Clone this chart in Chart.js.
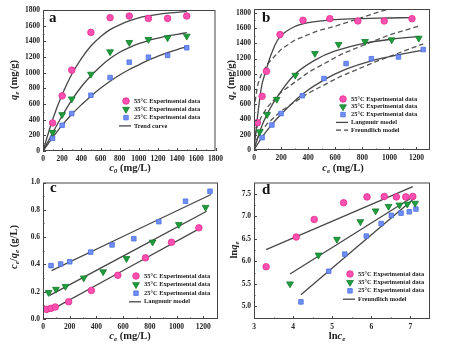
<!DOCTYPE html>
<html>
<head>
<meta charset="utf-8">
<script src="https://cdn.jsdelivr.net/npm/chart.js@4.4.0/dist/chart.umd.min.js"></script>
<style>
  body { margin: 0; background: #fff; }
  #wrap { position: relative; width: 454px; height: 351px; }
  canvas { position: absolute; }
</style>
</head>
<body>
<div id="wrap">
  <canvas id="chartA" width="227" height="175" style="left:0;top:0"></canvas>
  <canvas id="chartB" width="227" height="175" style="left:227px;top:0"></canvas>
  <canvas id="chartC" width="227" height="175" style="left:0;top:175px"></canvas>
  <canvas id="chartD" width="227" height="175" style="left:227px;top:175px"></canvas>
</div>
<script>
// ---- data ----
// initial concentration c0 (mg/L) and adsorbed amount qe (mg/g)
const C0 = [100, 200, 300, 500, 700, 900, 1100, 1300, 1500];
const QE_55 = [358, 704, 1032, 1514, 1702, 1723, 1693, 1693, 1723];
const QE_35 = [239, 465, 665, 981, 1267, 1386, 1424, 1446, 1467];
const QE_25 = [162, 328, 478, 712, 938, 1134, 1198, 1220, 1318];

// trend curves (panel a)
const TREND_X = [0, 100, 200, 300, 400, 500, 600, 700, 800, 900, 1000, 1100, 1200, 1300, 1400, 1500];
const TREND_55 = [0, 400, 720, 980, 1180, 1340, 1460, 1550, 1610, 1660, 1700, 1725, 1745, 1760, 1770, 1780];
const TREND_35 = [0, 230, 450, 650, 820, 960, 1080, 1180, 1260, 1320, 1370, 1410, 1440, 1470, 1490, 1510];
const TREND_25 = [0, 170, 330, 470, 590, 700, 800, 890, 970, 1040, 1100, 1160, 1210, 1255, 1295, 1330];

// equilibrium concentration ce (mg/L)
const CE_55 = [25, 60, 92, 192, 362, 560, 767, 962, 1167];
const CE_35 = [42, 97, 168, 305, 450, 625, 820, 1017, 1217];
const CE_25 = [60, 132, 200, 357, 517, 680, 867, 1067, 1250];

// Langmuir curves (panel b)
const LANG_55_X = [0, 20, 40, 60, 90, 130, 190, 290, 400, 600, 800, 1000, 1160];
const LANG_55_Y = [0, 340, 640, 870, 1050, 1270, 1480, 1610, 1670, 1710, 1725, 1732, 1738];
const LANG_35_X = [0, 50, 100, 165, 300, 450, 600, 815, 1000, 1220];
const LANG_35_Y = [0, 280, 480, 680, 990, 1180, 1300, 1400, 1450, 1490];
const LANG_25_X = [0, 60, 130, 200, 357, 517, 680, 867, 1067, 1250];
const LANG_25_Y = [0, 170, 330, 470, 730, 920, 1060, 1170, 1250, 1310];

// Freundlich curves (panel b)
const FREU_55_X = [1, 5, 25, 50, 100, 200, 300, 465, 600, 800, 940, 1000];
const FREU_55_Y = [424, 600, 840, 975, 1130, 1320, 1440, 1560, 1625, 1740, 1822, 1850];
const FREU_35_X = [1, 5, 25, 50, 100, 200, 400, 640, 800, 1000, 1220];
const FREU_35_Y = [80, 160, 315, 420, 566, 757, 1018, 1252, 1370, 1510, 1628];
const FREU_25_X = [1, 10, 50, 100, 200, 400, 640, 900, 1250];
const FREU_25_Y = [30, 99, 240, 350, 511, 745, 966, 1160, 1393];

// ce/qe (g/L) (panel c)
const CQ_55 = [0.071, 0.078, 0.088, 0.126, 0.209, 0.32, 0.448, 0.562, 0.668];
const CQ_35 = [0.194, 0.218, 0.239, 0.301, 0.346, 0.443, 0.564, 0.692, 0.818];
const CQ_25 = [0.391, 0.403, 0.419, 0.49, 0.543, 0.588, 0.713, 0.863, 0.936];
const LIN_55_X = [25, 1175], LIN_55_Y = [0.047, 0.664];
const LIN_35_X = [50, 1225], LIN_35_Y = [0.173, 0.789];
const LIN_25_X = [64, 1258], LIN_25_Y = [0.355, 0.912];

// ln ce / ln qe (panel d)
const LNCE_55 = [3.31, 4.08, 4.54, 5.29, 5.89, 6.33, 6.64, 6.88, 7.06];
const LNQE_55 = [5.88, 6.54, 6.93, 7.30, 7.43, 7.44, 7.43, 7.43, 7.44];
const LNCE_35 = [3.92, 4.65, 5.12, 5.72, 6.11, 6.44, 6.72, 6.92, 7.12];
const LNQE_35 = [5.50, 6.14, 6.49, 6.88, 7.12, 7.22, 7.25, 7.27, 7.29];
const LNCE_25 = [4.20, 4.91, 5.32, 5.87, 6.25, 6.51, 6.76, 6.97, 7.14];
const LNQE_25 = [5.10, 5.78, 6.16, 6.56, 6.84, 7.02, 7.07, 7.10, 7.16];
const FLIN_55_X = [3.31, 7.06], FLIN_55_Y = [6.26, 7.66];
const FLIN_35_X = [3.92, 7.12], FLIN_35_Y = [5.72, 7.46];
const FLIN_25_X = [4.20, 7.14], FLIN_25_Y = [5.26, 7.43];

// tick labels
const TICKS_A_X = [0, 200, 400, 600, 800, 1000, 1200, 1400, 1600, 1800];
const TICKS_A_Y = [0, 200, 400, 600, 800, 1000, 1200, 1400, 1600, 1800];
const TICKS_B_X = [0, 200, 400, 600, 800, 1000, 1200];
const TICKS_B_Y = [0, 200, 400, 600, 800, 1000, 1200, 1400, 1600, 1800];
const TICKS_C_X = [0, 200, 400, 600, 800, 1000, 1200];
const TICKS_C_Y = [0, 0.2, 0.4, 0.6, 0.8, 1.0];
const TICKS_D_X = [3, 4, 5, 6, 7];
const TICKS_D_Y = [5.0, 5.5, 6.0, 6.5, 7.0, 7.5];

const LEG_55 = '55°C Experimental data';
const LEG_35 = '35°C Experimental data';
const LEG_25 = '25°C Experimental data';

// ---- styles ----
const PINK = '#ff4fb0', PINK_B = '#e0308f';
const GREEN = '#1e9e3c', GREEN_B = '#137a2b';
const BLUE = '#6f8ff5', BLUE_B = '#4c6ee0';
const LINE = '#474747';
const SERIF = '"Liberation Serif", "DejaVu Serif", serif';

const xy = (xs, ys) => xs.map((x, i) => ({ x: x, y: ys[i] }));

function pts(label, xs, ys, kind) {
  const st = {
    p: { bg: PINK, bd: PINK_B, style: 'circle', rot: 0, r: 3.3 },
    g: { bg: GREEN, bd: GREEN_B, style: 'triangle', rot: 180, r: 3.9 },
    b: { bg: BLUE, bd: BLUE_B, style: 'rect', rot: 0, r: 3.2 }
  }[kind];
  return {
    label: label, data: xy(xs, ys), showLine: false,
    pointStyle: st.style, rotation: st.rot, pointRadius: st.r,
    backgroundColor: st.bg, borderColor: st.bd, borderWidth: 0.8
  };
}

function curve(label, xs, ys, dashed) {
  return {
    label: label, data: xy(xs, ys), showLine: true, pointRadius: 0,
    borderColor: dashed ? '#555' : LINE, borderWidth: 1.3,
    borderDash: dashed ? [5, 3] : [], tension: dashed ? 0 : 0.35, fill: false
  };
}

// draw text made of plain / italic / subscript parts
function drawRich(ctx, segs, x, y, rotate) {
  ctx.save();
  ctx.translate(x, y);
  if (rotate) ctx.rotate(-Math.PI / 2);
  const font = (s) => (s.it ? 'italic ' : '') + 'bold ' + (s.sub ? 7 : 10.5) + 'px ' + SERIF;
  let w = 0;
  segs.forEach(s => { ctx.font = font(s); w += ctx.measureText(s.t).width; });
  let cx = -w / 2;
  ctx.fillStyle = '#222';
  ctx.textBaseline = 'middle';
  segs.forEach(s => {
    ctx.font = font(s);
    ctx.fillText(s.t, cx, s.sub ? 3 : 0);
    cx += ctx.measureText(s.t).width;
  });
  ctx.restore();
}

// frame, inward ticks, panel letter, axis titles and in-plot legend
const decorPlugin = {
  id: 'decor',
  afterDraw(chart) {
    const o = chart.options.plugins.decor;
    const ctx = chart.ctx, a = chart.chartArea;
    const sx = chart.scales.x, sy = chart.scales.y;
    ctx.save();
    ctx.strokeStyle = '#444';
    ctx.lineWidth = 1;
    ctx.strokeRect(a.left + 0.5, a.top + 0.5, a.right - a.left - 1, a.bottom - a.top - 1);
    ctx.beginPath();
    const tx = o.ticksX, ty = o.ticksY;
    tx.forEach((v, i) => {
      const p = Math.round(sx.getPixelForValue(v)) + 0.5;
      ctx.moveTo(p, a.bottom); ctx.lineTo(p, a.bottom - 3);
      if (i < tx.length - 1) {
        const m = Math.round(sx.getPixelForValue((v + tx[i + 1]) / 2)) + 0.5;
        ctx.moveTo(m, a.bottom); ctx.lineTo(m, a.bottom - 1.5);
      }
    });
    ty.forEach((v, i) => {
      const p = Math.round(sy.getPixelForValue(v)) + 0.5;
      ctx.moveTo(a.left, p); ctx.lineTo(a.left + 3, p);
      if (i < ty.length - 1) {
        const m = Math.round(sy.getPixelForValue((v + ty[i + 1]) / 2)) + 0.5;
        ctx.moveTo(a.left, m); ctx.lineTo(a.left + 1.5, m);
      }
    });
    ctx.stroke();

    ctx.fillStyle = '#111';
    ctx.font = 'bold 15px ' + SERIF;
    ctx.textBaseline = 'middle';
    ctx.fillText(o.letter, o.letterPos[0], o.letterPos[1]);

    drawRich(ctx, o.xTitle, o.xTitlePos[0], o.xTitlePos[1], false);
    drawRich(ctx, o.yTitle, o.yTitlePos[0], o.yTitlePos[1], true);

    const lg = o.legend;
    ctx.font = 'bold 6.4px ' + SERIF;
    ctx.fillStyle = '#222';
    lg.items.forEach((it, i) => {
      const y = lg.y + i * lg.dy;
      if (it.line) {
        ctx.strokeStyle = LINE;
        ctx.lineWidth = 1.3;
        ctx.setLineDash(it.dash ? [5, 3] : []);
        ctx.beginPath();
        ctx.moveTo(lg.x - 7, y); ctx.lineTo(lg.x + 5, y);
        ctx.stroke();
        ctx.setLineDash([]);
      } else {
        const ds = chart.data.datasets[it.ds];
        ctx.fillStyle = ds.backgroundColor;
        ctx.strokeStyle = ds.borderColor;
        ctx.lineWidth = 0.8;
        Chart.helpers.drawPoint(ctx, { pointStyle: ds.pointStyle, rotation: ds.rotation, radius: ds.pointRadius, borderWidth: 0.8 }, lg.x, y);
      }
      ctx.fillStyle = '#222';
      ctx.fillText(it.text, lg.x + 8, y);
    });
    ctx.restore();
  }
};

function makeChart(id, datasets, cfg) {
  const tickFont = { family: SERIF, size: 7.5, weight: 'bold' };
  new Chart(document.getElementById(id), {
    type: 'scatter',
    data: { datasets: datasets },
    options: {
      responsive: false,
      animation: false,
      devicePixelRatio: 1,
      layout: { padding: cfg.pad },
      plugins: {
        legend: { display: false },
        tooltip: { enabled: false },
        decor: cfg.decor
      },
      scales: {
        x: {
          type: 'linear', min: cfg.xMin, max: cfg.xMax,
          grid: { display: false, drawTicks: false },
          border: { display: false },
          ticks: { font: tickFont, color: '#222', padding: 4, maxRotation: 0, autoSkip: false,
                   callback: v => cfg.fmtX ? cfg.fmtX(v) : v },
          afterBuildTicks: s => { s.ticks = cfg.decor.ticksX.map(v => ({ value: v })); },
          afterFit: s => { s.height = cfg.xH; }
        },
        y: {
          type: 'linear', min: cfg.yMin, max: cfg.yMax,
          grid: { display: false, drawTicks: false },
          border: { display: false },
          ticks: { font: tickFont, color: '#222', padding: 3, autoSkip: false,
                   callback: v => cfg.fmtY ? cfg.fmtY(v) : v },
          afterBuildTicks: s => { s.ticks = cfg.decor.ticksY.map(v => ({ value: v })); },
          afterFit: s => { s.width = cfg.yW; }
        }
      }
    },
    plugins: [decorPlugin]
  });
}

const QE_T = [{ t: 'q', it: true }, { t: 'e', it: true, sub: true }, { t: ' (mg/g)' }];
const CE_T = [{ t: 'c', it: true }, { t: 'e', it: true, sub: true }, { t: ' (mg/L)' }];

function expItems(extra) {
  return [
    { ds: 0, text: LEG_55 },
    { ds: 1, text: LEG_35 },
    { ds: 2, text: LEG_25 }
  ].concat(extra);
}

// Panel a
makeChart('chartA', [
  pts(LEG_55, C0, QE_55, 'p'),
  pts(LEG_35, C0, QE_35, 'g'),
  pts(LEG_25, C0, QE_25, 'b'),
  curve('Trend curve', TREND_X, TREND_55),
  curve('Trend curve', TREND_X, TREND_35),
  curve('Trend curve', TREND_X, TREND_25)
], {
  pad: { top: 10, right: 9, left: 0, bottom: 0 }, yW: 43, xH: 24,
  xMin: 0, xMax: 1800, yMin: 0, yMax: 1800,
  decor: {
    ticksX: TICKS_A_X, ticksY: TICKS_A_Y, letter: 'a', letterPos: [49, 18],
    xTitle: [{ t: 'c', it: true }, { t: '0', it: true, sub: true }, { t: ' (mg/L)' }],
    xTitlePos: [130, 168], yTitle: QE_T, yTitlePos: [14, 80],
    legend: { x: 126, y: 101, dy: 8.3, items: expItems([{ line: true, text: 'Trend curve' }]) }
  }
});

// Panel b
makeChart('chartB', [
  pts(LEG_55, CE_55, QE_55, 'p'),
  pts(LEG_35, CE_35, QE_35, 'g'),
  pts(LEG_25, CE_25, QE_25, 'b'),
  curve('Langmuir model', LANG_55_X, LANG_55_Y),
  curve('Langmuir model', LANG_35_X, LANG_35_Y),
  curve('Langmuir model', LANG_25_X, LANG_25_Y),
  curve('Freundlich model', FREU_55_X, FREU_55_Y, true),
  curve('Freundlich model', FREU_35_X, FREU_35_Y, true),
  curve('Freundlich model', FREU_25_X, FREU_25_Y, true)
], {
  pad: { top: 9, right: 24, left: 0, bottom: 0 }, yW: 27, xH: 25,
  xMin: 0, xMax: 1300, yMin: 0, yMax: 1850,
  decor: {
    ticksX: TICKS_B_X, ticksY: TICKS_B_Y, letter: 'b', letterPos: [35, 18],
    xTitle: CE_T, xTitlePos: [116, 168], yTitle: QE_T, yTitlePos: [4, 80],
    legend: { x: 116, y: 99, dy: 7.8, items: expItems([
      { line: true, text: 'Langmuir model' },
      { line: true, dash: true, text: 'Freundlich model' }]) }
  }
});

// Panel c
makeChart('chartC', [
  pts(LEG_55, CE_55, CQ_55, 'p'),
  pts(LEG_35, CE_35, CQ_35, 'g'),
  pts(LEG_25, CE_25, CQ_25, 'b'),
  curve('Langmuir model', LIN_55_X, LIN_55_Y),
  curve('Langmuir model', LIN_35_X, LIN_35_Y),
  curve('Langmuir model', LIN_25_X, LIN_25_Y)
], {
  pad: { top: 2, right: 9, left: 0, bottom: 0 }, yW: 43, xH: 31,
  xMin: 0, xMax: 1310, yMin: 0, yMax: 1.0,
  fmtY: v => v.toFixed(1),
  decor: {
    ticksX: TICKS_C_X, ticksY: TICKS_C_Y, letter: 'c', letterPos: [50, 13],
    xTitle: CE_T, xTitlePos: [130, 161],
    yTitle: [{ t: 'c', it: true }, { t: 'e', it: true, sub: true }, { t: '/' }, { t: 'q', it: true }, { t: 'e', it: true, sub: true }, { t: ' (g/L)' }],
    yTitlePos: [14, 72],
    legend: { x: 136, y: 101, dy: 8.6, items: expItems([{ line: true, text: 'Langmuir model' }]) }
  }
});

// Panel d
makeChart('chartD', [
  pts(LEG_55, LNCE_55, LNQE_55, 'p'),
  pts(LEG_35, LNCE_35, LNQE_35, 'g'),
  pts(LEG_25, LNCE_25, LNQE_25, 'b'),
  curve('Freundlich model', FLIN_55_X, FLIN_55_Y),
  curve('Freundlich model', FLIN_35_X, FLIN_35_Y),
  curve('Freundlich model', FLIN_25_X, FLIN_25_Y)
], {
  pad: { top: 2, right: 24, left: 0, bottom: 0 }, yW: 27, xH: 31,
  xMin: 3, xMax: 7.5, yMin: 4.72, yMax: 7.75,
  fmtY: v => v.toFixed(1),
  decor: {
    ticksX: TICKS_D_X, ticksY: TICKS_D_Y, letter: 'd', letterPos: [35, 15],
    xTitle: [{ t: 'ln' }, { t: 'c', it: true }, { t: 'e', it: true, sub: true }], xTitlePos: [110, 161],
    yTitle: [{ t: 'ln' }, { t: 'q', it: true }, { t: 'e', it: true, sub: true }], yTitlePos: [7, 75],
    legend: { x: 123, y: 99, dy: 8.4, items: expItems([{ line: true, text: 'Freundlich model' }]) }
  }
});
</script>
</body>
</html>
